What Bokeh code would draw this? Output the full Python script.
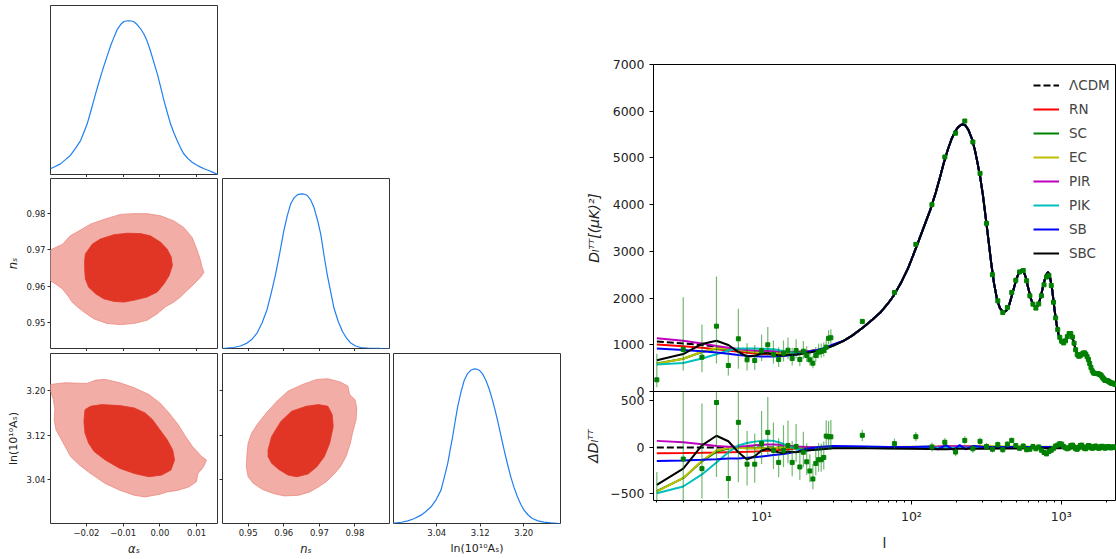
import numpy as np
from bokeh.plotting import figure
from bokeh.layouts import row, column
from bokeh.models import FixedTicker, Range1d, Legend, LegendItem, Spacer
from bokeh.embed import file_html
from bokeh.resources import INLINE

FONT = "DejaVu Sans"

# ---------------- corner plot data ----------------
A_GRID = [-0.0298, -0.0285, -0.0271, -0.0258, -0.0244, -0.0230, -0.0216, -0.0207, -0.0198, -0.0189,
          -0.0180, -0.0171, -0.0162, -0.0152, -0.0143, -0.0134, -0.0125, -0.0116, -0.0107, -0.0098,
          -0.0092, -0.0085, -0.0078, -0.0071, -0.0062, -0.0053, -0.0044, -0.0035, -0.0026, -0.0017,
          -0.0007, 0.0002, 0.0011, 0.0020, 0.0029, 0.0038, 0.0047, 0.0056, 0.0065, 0.0076,
          0.0088, 0.0100, 0.0111, 0.0122, 0.0133, 0.0145, 0.0158]
A_PDF = [0.037, 0.052, 0.069, 0.095, 0.124, 0.170, 0.221, 0.275, 0.330, 0.405,
         0.482, 0.560, 0.634, 0.710, 0.775, 0.840, 0.894, 0.945, 0.976, 0.996,
         0.999, 1.0, 0.999, 0.994, 0.976, 0.950, 0.916, 0.870, 0.807, 0.735,
         0.655, 0.570, 0.482, 0.405, 0.330, 0.272, 0.221, 0.175, 0.135, 0.105,
         0.080, 0.062, 0.048, 0.036, 0.026, 0.014, 0.0]

N_GRID = [0.9426, 0.9440, 0.9459, 0.9478, 0.9497, 0.9511, 0.9525, 0.9539, 0.9553, 0.9565,
          0.9577, 0.9589, 0.9600, 0.9610, 0.9619, 0.9629, 0.9638, 0.9645, 0.9652, 0.9659,
          0.9666, 0.9676, 0.9685, 0.9695, 0.9704, 0.9713, 0.9722, 0.9732, 0.9741, 0.9753,
          0.9765, 0.9777, 0.9788, 0.9802, 0.9816, 0.9840, 0.9870, 0.9897]
N_PDF = [0.0, 0.002, 0.0065, 0.016, 0.035, 0.060, 0.100, 0.165, 0.251, 0.360,
         0.479, 0.620, 0.760, 0.860, 0.933, 0.975, 0.994, 0.999, 1.0, 0.998,
         0.990, 0.960, 0.912, 0.830, 0.738, 0.605, 0.479, 0.365, 0.262, 0.175,
         0.110, 0.065, 0.035, 0.016, 0.0065, 0.0015, 0.0003, 0.0]

L_GRID = [2.9605, 2.9623, 2.9750, 2.9868, 2.9990, 3.0112, 3.0200, 3.0295, 3.0390, 3.0478,
          3.0540, 3.0601, 3.0646, 3.0692, 3.0738, 3.0784, 3.0845, 3.0906, 3.0967, 3.1028,
          3.1065, 3.1101, 3.1141, 3.1181, 3.1242, 3.1303, 3.1364, 3.1425, 3.1471, 3.1517,
          3.1578, 3.1639, 3.1700, 3.1761, 3.1822, 3.1883, 3.1944, 3.2005, 3.2080, 3.2158,
          3.2260, 3.2372, 3.2500, 3.2665]
L_PDF = [0.0, 0.002, 0.008, 0.017, 0.032, 0.054, 0.078, 0.108, 0.155, 0.216,
         0.300, 0.388, 0.475, 0.561, 0.660, 0.755, 0.850, 0.927, 0.970, 0.992,
         0.998, 1.0, 0.998, 0.992, 0.968, 0.927, 0.870, 0.798, 0.735, 0.669,
         0.572, 0.475, 0.385, 0.302, 0.232, 0.173, 0.125, 0.086, 0.055, 0.032,
         0.017, 0.009, 0.004, 0.0]

# alpha_s - n_s contours
C_AN_OUT_A = [-0.0315, -0.0298, -0.0266, -0.0244, -0.0221, -0.0189, -0.0153, -0.0107, -0.0071, -0.0035,
              0.0002, 0.0038, 0.0065, 0.0088, 0.0102, 0.0111, 0.0115, 0.0120, 0.0111, 0.0093,
              0.0074, 0.0056, 0.0038, 0.0015, -0.0007, -0.0035, -0.0071, -0.0107, -0.0144, -0.0180,
              -0.0207, -0.0225, -0.0239, -0.0248, -0.0266, -0.0284, -0.0298, -0.0315]
C_AN_OUT_N = [0.9695, 0.9700, 0.9715, 0.9739, 0.9752, 0.9771, 0.9784, 0.9798, 0.9800, 0.9800,
              0.9794, 0.9780, 0.9762, 0.9734, 0.9698, 0.9670, 0.9652, 0.9638, 0.9625, 0.9606,
              0.9588, 0.9570, 0.9556, 0.9543, 0.9524, 0.9506, 0.9497, 0.9494, 0.9497, 0.9510,
              0.9529, 0.9543, 0.9556, 0.9570, 0.9593, 0.9606, 0.9615, 0.9620]
C_AN_IN_A = [-0.0203, -0.0184, -0.0162, -0.0125, -0.0089, -0.0053, -0.0026, 0.0002, 0.0020, 0.0031,
             0.0034, 0.0025, 0.0011, -0.0007, -0.0035, -0.0071, -0.0098, -0.0125, -0.0153, -0.0175,
             -0.0194, -0.0203, -0.0205, -0.0205]
C_AN_IN_N = [0.9689, 0.9716, 0.9730, 0.9742, 0.9746, 0.9745, 0.9739, 0.9721, 0.9702, 0.9680,
             0.9657, 0.9629, 0.9606, 0.9584, 0.9570, 0.9561, 0.9556, 0.9558, 0.9565, 0.9579,
             0.9597, 0.9620, 0.9648, 0.9670]

# alpha_s - ln(10^10 A_s) contours
C_AL_OUT_A = [-0.0315, -0.0298, -0.0258, -0.0199, -0.0174, -0.0149, -0.0109, -0.0070, -0.0030, 0.0000,
              0.0025, 0.0050, 0.0070, 0.0089, 0.0114, 0.0127, 0.0119, 0.0104, 0.0099, 0.0080,
              0.0050, 0.0020, 0.0000, -0.0040, -0.0070, -0.0109, -0.0149, -0.0189, -0.0219, -0.0243,
              -0.0258, -0.0273, -0.0283, -0.0288, -0.0286, -0.0290, -0.0298, -0.0315]
C_AL_OUT_L = [3.2110, 3.2116, 3.2146, 3.2134, 3.2195, 3.2207, 3.2146, 3.2056, 3.1934, 3.1783,
              3.1601, 3.1389, 3.1176, 3.0994, 3.0813, 3.0752, 3.0631, 3.0509, 3.0358, 3.0267,
              3.0206, 3.0176, 3.0134, 3.0085, 3.0115, 3.0206, 3.0328, 3.0509, 3.0661, 3.0813,
              3.0994, 3.1176, 3.1298, 3.1480, 3.1661, 3.1843, 3.1995, 3.2000]
C_AL_IN_A = [-0.0204, -0.0189, -0.0159, -0.0109, -0.0070, -0.0040, -0.0020, 0.0000, 0.0020, 0.0035,
             0.0040, 0.0030, 0.0005, -0.0030, -0.0070, -0.0109, -0.0149, -0.0179, -0.0194, -0.0204,
             -0.0207]
C_AL_IN_L = [3.1661, 3.1722, 3.1752, 3.1734, 3.1692, 3.1601, 3.1480, 3.1298, 3.1116, 3.0934,
             3.0752, 3.0570, 3.0479, 3.0449, 3.0509, 3.0600, 3.0752, 3.0904, 3.1055, 3.1237,
             3.1449]

# n_s - ln(10^10 A_s) contours
C_NL_OUT_N = [0.9500, 0.9510, 0.9525, 0.9551, 0.9581, 0.9612, 0.9653, 0.9693, 0.9724, 0.9759,
              0.9780, 0.9785, 0.9800, 0.9805, 0.9803, 0.9793, 0.9787, 0.9775, 0.9759, 0.9739,
              0.9719, 0.9698, 0.9673, 0.9642, 0.9602, 0.9571, 0.9541, 0.9515, 0.9500, 0.9495,
              0.9497]
C_NL_OUT_L = [3.1055, 3.1237, 3.1389, 3.1601, 3.1813, 3.1995, 3.2116, 3.2207, 3.2219, 3.2159,
              3.2086, 3.1934, 3.1843, 3.1692, 3.1480, 3.1237, 3.1055, 3.0813, 3.0631, 3.0479,
              3.0358, 3.0267, 3.0176, 3.0115, 3.0103, 3.0146, 3.0218, 3.0328, 3.0449, 3.0631,
              3.0873]
C_NL_IN_N = [0.9556, 0.9566, 0.9592, 0.9622, 0.9663, 0.9698, 0.9724, 0.9736, 0.9739, 0.9729,
             0.9714, 0.9693, 0.9668, 0.9637, 0.9612, 0.9586, 0.9566, 0.9556]
C_NL_IN_L = [3.0934, 3.1176, 3.1449, 3.1631, 3.1722, 3.1752, 3.1722, 3.1571, 3.1358, 3.1055,
             3.0813, 3.0631, 3.0497, 3.0449, 3.0479, 3.0582, 3.0691, 3.0813]

A_TICKS = [-0.02, -0.01, 0.0, 0.01]
A_LABELS = ["\u22120.02", "\u22120.01", "0.00", "0.01"]
N_TICKS = [0.95, 0.96, 0.97, 0.98]
N_LABELS = ["0.95", "0.96", "0.97", "0.98"]
L_TICKS = [3.04, 3.12, 3.20]
L_LABELS = ["3.04", "3.12", "3.20"]

# ---------------- power spectrum data ----------------
L_LOW = [2, 3, 4, 5, 6, 7, 8, 9, 10, 11, 12, 13, 14, 15, 17, 20, 25, 30]
DL_LOW = [1070, 1030, 995, 960, 930, 900, 875, 858, 845, 838, 833, 830, 830, 832, 838, 855, 900, 990]
L_HIGH = [35, 40, 48, 55, 62, 70, 76, 85, 95, 104,
          115, 125, 134, 145, 155, 164, 175, 185, 196, 205,
          215, 222, 230, 240, 254, 265, 275, 288, 300, 316,
          330, 341, 355, 373, 390, 412, 430, 450, 475, 500,
          520, 540, 560, 580, 600, 625, 650, 677, 700, 730,
          760, 790, 815, 840, 870, 900, 930, 960, 990, 1026,
          1060, 1100, 1136, 1170, 1210, 1250, 1290, 1324, 1370, 1420,
          1470, 1520, 1580, 1642, 1700, 1767, 1820, 1906, 1980, 2050,
          2150, 2235, 2300]
DL_HIGH = [1080, 1190, 1380, 1540, 1690, 1890, 2050, 2320, 2640, 2960,
           3330, 3640, 3900, 4250, 4580, 4880, 5180, 5400, 5570, 5660,
           5710, 5720, 5690, 5600, 5400, 5170, 4920, 4580, 4200, 3620,
           3120, 2740, 2330, 1960, 1780, 1700, 1730, 1860, 2130, 2390,
           2540, 2600, 2570, 2440, 2230, 2000, 1850, 1800, 1840, 2030,
           2290, 2490, 2560, 2460, 2170, 1770, 1440, 1210, 1070, 1020,
           1070, 1200, 1250, 1200, 1060, 900, 780, 740, 780, 840,
           800, 660, 510, 400, 370, 390, 360, 275, 240, 215,
           185, 165, 150]

M_RN = [1008, 970, 937, 905, 878, 850, 828, 814, 805, 802, 801, 802, 806, 812, 825, 849, 898, 990]
M_SC = [600, 700, 845, 915, 918, 895, 867, 848, 835, 830, 827, 826, 827, 830, 838, 855, 900, 990]
M_EC = [596, 702, 852, 927, 923, 895, 867, 848, 835, 830, 827, 826, 827, 830, 837, 855, 900, 990]
M_PIR = [1140, 1085, 1030, 975, 938, 910, 890, 880, 873, 868, 863, 858, 854, 850, 848, 859, 900, 990]
M_PIK = [578, 610, 705, 798, 878, 922, 922, 920, 915, 912, 903, 886, 866, 846, 823, 822, 880, 985]
M_SB = [923, 890, 862, 834, 810, 782, 763, 753, 748, 748, 751, 755, 760, 769, 790, 840, 908, 1005]
M_SBC = [667, 802, 1017, 1085, 996, 848, 746, 763, 812, 823, 793, 778, 768, 788, 786, 822, 880, 980]

RES_L = [2, 3, 4, 5, 6, 7, 8, 9, 10, 11, 12, 13, 14, 15, 17, 20, 25, 30,
         40, 50, 70, 100, 130, 150, 170, 190, 210, 230, 260, 300, 400, 600, 1000, 1500, 2300]
R_LCDM = [0, 0, 0, 0, 0, 0, 0, 0, 0, 0, 0, 0, 0, 0, 0, 0, 0, 0,
          0, 0, 0, 0, 0, 0, 0, 0, 0, 0, 0, 0, 0, 0, 0, 0, 0]
R_RN = [-62, -60, -58, -55, -52, -50, -47, -44, -40, -36, -32, -28, -24, -20, -13, -6, -2, 0,
        0, 2, 3, 3, 2, 2, 2, 2, 2, 2, 2, 2, 3, 3, 2, 2, 2]
R_SC = [-470, -330, -150, -45, -12, -5, -8, -10, -10, -8, -6, -4, -3, -2, 0, 0, 0, 0,
        0, 0, 2, 3, 5, 5, 5, 5, 5, 5, 5, 5, 5, 4, 3, 2, 2]
R_EC = [-474, -328, -143, -33, -7, -5, -8, -10, -10, -8, -6, -4, -3, -2, -1, 0, 0, 0,
        2, 3, 5, 8, 10, 12, 14, 15, 15, 15, 15, 14, 12, 10, 8, 6, 5]
R_PIR = [70, 55, 35, 15, 8, 10, 15, 22, 28, 30, 30, 28, 24, 18, 10, 4, 0, 0,
         0, 2, 3, 5, 8, 10, 12, 12, 12, 12, 10, 8, 5, 3, 2, 2, 2]
R_PIK = [-492, -420, -290, -162, -52, 22, 47, 62, 70, 74, 70, 56, 36, 14, -15, -33, -20, -5,
         0, -5, -8, -8, -6, -5, -5, -5, -5, -5, -5, -5, -4, -3, -2, -2, -2]
R_SB = [-147, -140, -133, -126, -120, -118, -112, -105, -97, -90, -82, -75, -70, -63, -48, -15, 8, 15,
        12, 10, 5, 3, 10, -20, 25, -25, 25, -20, 15, 5, 3, 5, 5, 5, 5]
R_SBC = [-403, -228, 22, 125, 66, -52, -129, -95, -33, -15, -40, -52, -62, -44, -52, -33, -20, -10,
         -8, -10, -12, -15, -18, -20, -20, -18, -15, -15, -15, -15, -12, -10, -8, -8, -8]

DATA_L_LOW = [2, 3, 4, 5, 6, 7, 8, 9, 10, 11, 12, 13, 14, 15, 16, 17, 18, 19, 20, 21,
              22, 23, 24, 25, 26, 27, 28, 29]
DATA_D_LOW = [250, 899, 735, 1399, 557, 1128, 678, 664, 871, 1000, 792, 685, 820, 884, 706, 878, 685, 863, 771, 678,
              606, 771, 842, 856, 878, 949, 1140, 1150]
RES_D_LOW = [-820, -125, -228, 482, -334, 269, -180, -180, 41, 161, -32, -161, -32, 20, -161, 10, -210, -52, -155, -253,
             -339, -172, -132, -132, -108, 121, 114, 114]
ERR_DN_LOW = [158, 449, 321, 799, 214, 642, 228, 200, 220, 250, 200, 160, 180, 190, 150, 170, 140, 160, 140, 120,
              110, 130, 130, 130, 130, 130, 130, 140]
ERR_UP_LOW = [557, 1120, 699, 1063, 321, 642, 356, 330, 350, 380, 300, 260, 270, 270, 230, 240, 200, 220, 200, 180,
              160, 180, 180, 170, 170, 170, 170, 180]

DATA_L_HIGH = [47, 77, 107, 137, 167, 197, 227, 257, 287, 317,
               347, 377, 407, 437, 467, 497, 527, 557, 587, 617,
               647, 677, 707, 737, 767, 797, 827, 857, 887, 917,
               947, 977, 1007, 1037, 1067, 1097, 1127, 1157, 1187, 1217,
               1247, 1277, 1307, 1337, 1367, 1397, 1427, 1457, 1487, 1517,
               1547, 1577, 1607, 1637, 1667, 1697, 1727, 1757, 1787, 1817,
               1847, 1877, 1907, 1937, 1967, 1997, 2027, 2057, 2087, 2117,
               2147, 2177, 2207, 2237, 2267, 2297]
DATA_D_HIGH = [1500, 2120, 3150, 4000, 5020, 5530, 5790, 5340, 4670, 3600,
               2500, 1940, 1690, 1800, 2120, 2380, 2560, 2590, 2370, 2050,
               1870, 1785, 1875, 2050, 2285, 2450, 2485, 2270, 1910, 1575,
               1325, 1160, 1075, 1040, 1085, 1175, 1240, 1240, 1165, 1035,
               895, 790, 755, 765, 800, 820, 828, 800, 745, 685,
               600, 515, 445, 400, 390, 385, 383, 383, 370, 362,
               340, 307, 280, 253, 237, 235, 230, 223, 210, 192,
               180, 178, 177, 170, 158, 148]
RES_D_HIGH = [130, 40, 115, 5, 55, -50, 75, -15, 65, 10,
              -20, 30, -25, 35, 75, 20, -10, 15, -25, -20,
              10, -15, 5, -30, -55, -70, -45, -30, -10, 15,
              25, 40, 35, 10, -5, -15, -5, 20, 25, 5,
              -15, -20, 0, 20, 25, 5, -10, -15, 5, 20,
              15, 0, -10, -5, 10, 15, 5, -5, -10, 0,
              10, 12, 5, -5, -8, 0, 8, 10, 5, -3,
              -5, 0, 5, 5, 0, -2]
ERR_HIGH = [60, 55, 50, 48, 46, 45, 44, 42, 40, 38,
            36, 34, 32, 30, 30, 28, 28, 26, 26, 25,
            25, 24, 24, 24, 23, 23, 22, 22, 22, 21,
            21, 20, 20, 20, 20, 19, 19, 19, 18, 18,
            18, 18, 17, 17, 17, 17, 16, 16, 16, 16,
            16, 15, 15, 15, 15, 15, 15, 15, 15, 15,
            15, 15, 15, 15, 15, 15, 15, 15, 15, 15,
            15, 15, 15, 15, 15, 15]

MODEL_NAMES = ["RN", "SC", "EC", "PIR", "PIK", "SB", "SBC"]
MODEL_COLORS = ["#ff0000", "#008000", "#bfbf00", "#bf00bf", "#00bfbf", "#0000ff", "#000000"]
MODEL_MAIN = [M_RN, M_SC, M_EC, M_PIR, M_PIK, M_SB, M_SBC]
MODEL_RES = [R_RN, R_SC, R_EC, R_PIR, R_PIK, R_SB, R_SBC]

Y_TICKS = [0, 1000, 2000, 3000, 4000, 5000, 6000, 7000]
R_TICKS = [-500, 0, 500]
X_TICKS = [10, 100, 1000]
X_LABELS = ["10\u00b9", "10\u00b2", "10\u00b3"]
X_MINOR = [2, 3, 4, 5, 6, 7, 8, 9, 20, 30, 40, 50, 60, 70, 80, 90,
           200, 300, 400, 500, 600, 700, 800, 900, 2000]

A_RANGE = (-0.0298, 0.0157)
N_RANGE = (0.9428, 0.9897)
L_RANGE = (2.9605, 3.2675)
P_RANGE = (0.0, 1.1)

LINE_BLUE = "#1f7ff0"
OUT_FILL = "#f2ada6"
OUT_LINE = "#ea8a80"
IN_FILL = "#e13626"
GREEN = "#008000"


def base_fig(w, h, xr, yr, bl, br, bt, bb, **kw):
    p = figure(width=w, height=h, x_range=xr, y_range=yr, output_backend="svg",
               toolbar_location=None, min_border_left=bl, min_border_right=br,
               min_border_top=bt, min_border_bottom=bb, **kw)
    p.grid.visible = False
    p.background_fill_color = "white"
    p.border_fill_color = "white"
    p.outline_line_color = "#333333"
    p.outline_line_width = 1
    return p


def set_axis(ax, ticks, labels, size="8.5px", tick_out=3, standoff=2,
             label=None, italic=False, label_size="11px", label_standoff=4,
             color="#333333", minor=None):
    ax.ticker = FixedTicker(ticks=ticks, minor_ticks=minor if minor else [])
    ax.axis_line_color = None
    ax.major_tick_in = 0
    ax.major_tick_out = tick_out
    ax.major_tick_line_color = color
    if minor:
        ax.minor_tick_in = 0
        ax.minor_tick_out = 2
        ax.minor_tick_line_color = color
    else:
        ax.minor_tick_line_color = None
    ax.major_label_text_font = FONT
    ax.major_label_overrides = {t: s for t, s in zip(ticks, labels)}
    ax.major_label_text_font_size = size
    ax.major_label_standoff = standoff
    ax.major_label_text_color = "#222222"
    if label:
        ax.axis_label = label
        ax.axis_label_text_font = FONT
        ax.axis_label_text_font_size = label_size
        ax.axis_label_text_font_style = "italic" if italic else "normal"
        ax.axis_label_standoff = label_standoff
        ax.axis_label_text_color = "#222222"


def tick_only_axis(ax, ticks, color="#333333"):
    # tick marks without labels: the tick positions are given as minor ticks
    ax.ticker = FixedTicker(ticks=[], minor_ticks=ticks)
    ax.axis_line_color = None
    ax.major_tick_in = 0
    ax.major_tick_out = 3
    ax.major_label_standoff = 0
    ax.minor_tick_in = 0
    ax.minor_tick_out = 3
    ax.minor_tick_line_color = color


# ---------------- corner plot ----------------
AR = Range1d(*A_RANGE)
NR = Range1d(*N_RANGE)
LR = Range1d(*L_RANGE)

p00 = base_fig(219, 177, AR, Range1d(*P_RANGE), 50, 2, 5, 3)
p00.yaxis.visible = False
tick_only_axis(p00.xaxis[0], A_TICKS)
p00.line(A_GRID, A_PDF, line_color=LINE_BLUE, line_width=1.2)

p10 = base_fig(219, 174, AR, NR, 50, 2, 1, 3)
tick_only_axis(p10.xaxis[0], A_TICKS)
set_axis(p10.yaxis[0], N_TICKS, N_LABELS, label="n\u209b", italic=True, label_size="11.5px")
p10.patch(C_AN_OUT_A, C_AN_OUT_N, fill_color=OUT_FILL, line_color=OUT_LINE, line_width=0.8)
p10.patch(C_AN_IN_A, C_AN_IN_N, fill_color=IN_FILL, line_color=IN_FILL, line_width=0.8)

p11 = base_fig(171, 174, NR, Range1d(*P_RANGE), 3, 1, 1, 3)
p11.yaxis.visible = False
tick_only_axis(p11.xaxis[0], N_TICKS)
p11.line(N_GRID, N_PDF, line_color=LINE_BLUE, line_width=1.2)

p20 = base_fig(219, 208, AR, LR, 50, 2, 2, 36)
set_axis(p20.xaxis[0], A_TICKS, A_LABELS, label="\u03b1\u209b", italic=True, label_size="11.5px", label_standoff=3)
set_axis(p20.yaxis[0], L_TICKS, L_LABELS, label="ln(10\u00b9\u2070A\u209b)", label_size="11px")
p20.patch(C_AL_OUT_A, C_AL_OUT_L, fill_color=OUT_FILL, line_color=OUT_LINE, line_width=0.8)
p20.patch(C_AL_IN_A, C_AL_IN_L, fill_color=IN_FILL, line_color=IN_FILL, line_width=0.8)

p21 = base_fig(171, 208, NR, LR, 3, 1, 2, 36)
set_axis(p21.xaxis[0], N_TICKS, N_LABELS, label="n\u209b", italic=True, label_size="11.5px", label_standoff=3)
tick_only_axis(p21.yaxis[0], L_TICKS)
p21.patch(C_NL_OUT_N, C_NL_OUT_L, fill_color=OUT_FILL, line_color=OUT_LINE, line_width=0.8)
p21.patch(C_NL_IN_N, C_NL_IN_L, fill_color=IN_FILL, line_color=IN_FILL, line_width=0.8)

p22 = base_fig(180, 208, LR, Range1d(*P_RANGE), 3, 10, 2, 36)
p22.yaxis.visible = False
set_axis(p22.xaxis[0], L_TICKS, L_LABELS, label="ln(10\u00b9\u2070A\u209b)", label_size="11px", label_standoff=3)
p22.line(L_GRID, L_PDF, line_color=LINE_BLUE, line_width=1.2)

# ---------------- power spectrum ----------------
XR = Range1d(1.9, 2300)
# main panel: frame 64..391, 7 px of bottom border so that the "0" label is whole
pm = base_fig(546, 398, XR, Range1d(0, 7000), 83, 1, 64, 7, x_axis_type="log")
pm.outline_line_color = "black"
pm.xaxis.visible = False
set_axis(pm.yaxis[0], Y_TICKS, [str(t) for t in Y_TICKS], size="12.5px", tick_out=4,
         standoff=5, label="D\u2097\u1d40\u1d40[(\u03bcK)\u00b2]", italic=True, label_size="14px",
         label_standoff=8, color="black")

# residual panel: overlaps the main panel's bottom border (transparent background)
pr = base_fig(546, 168, XR, Range1d(-570, 600), 83, 1, 0, 59, x_axis_type="log")
pr.margin = (-7, 0, 0, 0)
pr.border_fill_alpha = 0
pr.background_fill_alpha = 0
pr.outline_line_color = "black"
set_axis(pr.xaxis[0], X_TICKS, X_LABELS, size="12.5px", tick_out=4, standoff=4,
         label="l", label_size="14px", label_standoff=8, color="black", minor=X_MINOR)
set_axis(pr.yaxis[0], R_TICKS, ["\u2212500", "0", "500"], size="12.5px", tick_out=4,
         standoff=5, label="\u0394D\u2097\u1d40\u1d40", italic=True, label_size="14px",
         label_standoff=6, color="black")

L_ALL = L_LOW + L_HIGH
r_lcdm = pm.line(L_ALL, DL_LOW + DL_HIGH, line_color="black", line_dash="7 3", line_width=2)
pr.line(RES_L, R_LCDM, line_color="black", line_dash="7 3", line_width=2)

legend_items = [LegendItem(label="\u039bCDM", renderers=[r_lcdm])]
for name, col, mm, rr in zip(MODEL_NAMES, MODEL_COLORS, MODEL_MAIN, MODEL_RES):
    r = pm.line(L_ALL, mm + DL_HIGH, line_color=col, line_width=2)
    pr.line(RES_L, rr, line_color=col, line_width=2)
    legend_items.append(LegendItem(label=name, renderers=[r]))

# data: main panel
dl_low = np.array(DATA_D_LOW, dtype=float)
pm.segment(x0=DATA_L_LOW, y0=dl_low - np.array(ERR_DN_LOW), x1=DATA_L_LOW,
           y1=dl_low + np.array(ERR_UP_LOW), line_color=GREEN, line_alpha=0.55, line_width=1.2)
dh = np.array(DATA_D_HIGH, dtype=float)
eh = np.array(ERR_HIGH, dtype=float)
pm.segment(x0=DATA_L_HIGH, y0=dh - eh, x1=DATA_L_HIGH, y1=dh + eh,
           line_color=GREEN, line_alpha=0.55, line_width=1.2)
pm.scatter(DATA_L_LOW + DATA_L_HIGH, DATA_D_LOW + DATA_D_HIGH, marker="square", size=4,
           fill_color=GREEN, line_color=GREEN)

# data: residual panel
rl = np.array(RES_D_LOW, dtype=float)
pr.segment(x0=DATA_L_LOW, y0=rl - np.array(ERR_DN_LOW), x1=DATA_L_LOW,
           y1=rl + np.array(ERR_UP_LOW), line_color=GREEN, line_alpha=0.55, line_width=1.2)
rh = np.array(RES_D_HIGH, dtype=float)
pr.segment(x0=DATA_L_HIGH, y0=rh - eh, x1=DATA_L_HIGH, y1=rh + eh,
           line_color=GREEN, line_alpha=0.55, line_width=1.2)
pr.scatter(DATA_L_LOW + DATA_L_HIGH, RES_D_LOW + RES_D_HIGH, marker="square", size=4,
           fill_color=GREEN, line_color=GREEN)

legend = Legend(items=legend_items, location=(380, 128), border_line_alpha=0,
                background_fill_alpha=0, padding=0, margin=0, spacing=4,
                glyph_height=20, glyph_width=26, label_height=20, label_standoff=10,
                label_text_font=FONT, label_text_font_size="13.5px")
pm.add_layout(legend)

left = column(row(p00, Spacer(width=351, height=177)),
              row(p10, p11, Spacer(width=180, height=174)),
              row(p20, p21, p22))
layout = row(left, column(pm, pr))

open("out.html", "w").write(file_html(layout, INLINE))
